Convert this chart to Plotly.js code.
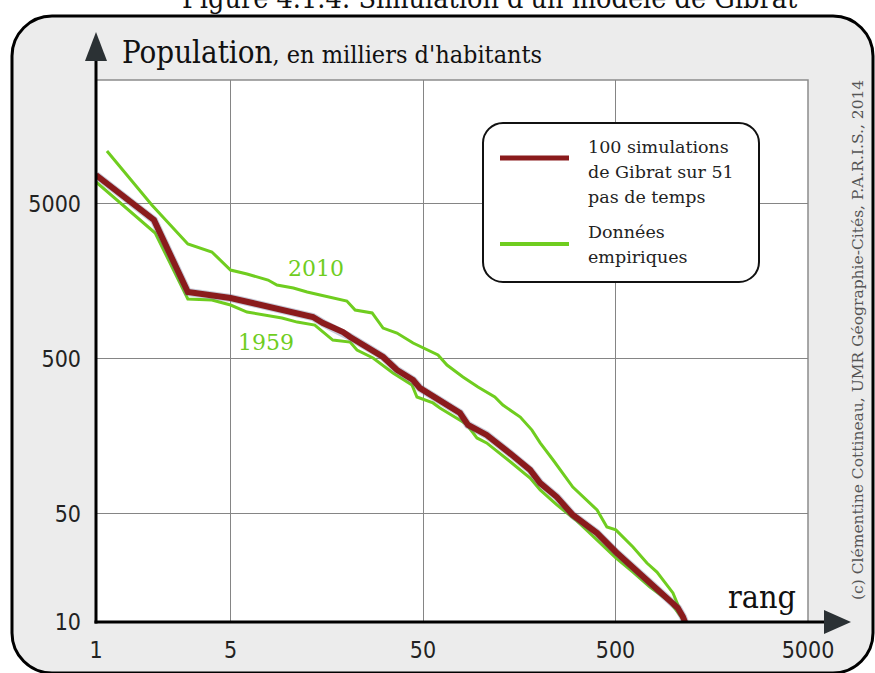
<!DOCTYPE html>
<html>
<head>
<meta charset="utf-8">
<script src="https://cdn.plot.ly/plotly-3.0.1.min.js"></script>
<style>html,body{margin:0;padding:0;background:#fff;}#chart{width:875px;height:673px;}</style>
</head>
<body>
<div id="chart"></div>
<script>
// ---- data (rank, population in thousands) ----
const simRank = [1, 2, 3, 4, 5, 6.5, 9.4, 11.5, 13.4, 15.1, 19.2, 20.9, 25.6, 31, 36.6, 44.4, 48.2, 61.2, 77.8, 85.6, 107, 141, 180, 203, 248, 300, 401, 502, 616, 755, 925, 1055, 1120, 1148];
const simPop  = [7650, 3925, 1346, 1288, 1231, 1143, 1030, 957, 929, 849, 743, 690, 594, 513, 423, 364, 323, 271, 223, 187, 161, 123, 95.7, 78.8, 64, 49, 37.5, 28.3, 22.6, 17.6, 14.5, 12.3, 10.8, 10];

const rank1959 = [1, 2.03, 3, 4, 5, 6.09, 9.25, 11.1, 13.7, 15.1, 17, 20.9, 22.7, 27.5, 34.9, 43.8, 46.5, 56.3, 61.2, 80.6, 84.6, 95.3, 107, 141, 180, 203, 248, 315, 401, 502, 616, 755, 959, 1148];
const pop1959  = [6900, 3235, 1213, 1195, 1110, 1000, 915, 861, 824, 743, 659, 640, 569, 505, 404, 338, 283, 259, 240, 195, 187, 154, 143, 109, 84.9, 71.1, 56.9, 44.9, 33.8, 25.9, 21.0, 16.8, 13.5, 10];

const rank2010 = [1.14, 1.95, 3, 4, 5, 6.09, 7.83, 8.71, 10.6, 12.5, 14.6, 17.0, 20.1, 22.2, 27.2, 31.0, 36.6, 44.4, 52.4, 59.8, 66.6, 80.6, 96.5, 118, 130, 160, 184, 203, 237, 300, 401, 451, 502, 616, 728, 821, 994, 1148];
const pop2010  = [10940, 4900, 2750, 2440, 1866, 1760, 1608, 1494, 1428, 1346, 1288, 1231, 1178, 1030, 986, 788, 732, 631, 569, 528, 455, 381, 328, 283, 251, 210, 173, 143, 111, 74.3, 52.8, 41.0, 39.3, 30.5, 24.0, 21.0, 15.4, 10];

const xTickVals = [1, 5, 50, 500, 5000];
const xTickText = ["1", "5", "50", "500", "5000"];
const yTickVals = [10, 50, 500, 5000];
const yTickText = ["10", "50", "500", "5000"];

const titleText = "Figure 4.1.4: Simulation d'un modèle de Gibrat";
const yTitleMain = "Population";
const yTitleSub = ", en milliers d'habitants";
const xTitle = "rang";
const legendSim = ["100 simulations", "de Gibrat sur 51", "pas de temps"];
const legendEmp = ["Données", "empiriques"];
const credit = "(c) Clémentine Cottineau, UMR Géographie-Cités, P.A.R.I.S., 2014";

// ---- styles ----
const RED = "#8a1b1c";
const GREEN = "#6fcd1f";
const SERIF = "'DejaVu Serif Condensed', 'DejaVu Serif', serif";
const SERIF_R = "'DejaVu Serif', serif";
const SANS_C = "'DejaVu Sans Condensed', 'DejaVu Sans', sans-serif";

// pixel -> paper helpers for decorations
const L = 96, R = 808, T = 80, B = 622;
const px = x => (x - L) / (R - L);
const py = y => (B - y) / (B - T);
function roundRect(x0, y0, x1, y1, r) {
  const k = 0.5523 * r;
  const P = (x, y) => px(x).toFixed(5) + "," + py(y).toFixed(5);
  return "M" + P(x0 + r, y0) + " L" + P(x1 - r, y0) +
    " C" + P(x1 - r + k, y0) + " " + P(x1, y0 + r - k) + " " + P(x1, y0 + r) +
    " L" + P(x1, y1 - r) +
    " C" + P(x1, y1 - r + k) + " " + P(x1 - r + k, y1) + " " + P(x1 - r, y1) +
    " L" + P(x0 + r, y1) +
    " C" + P(x0 + r - k, y1) + " " + P(x0, y1 - r + k) + " " + P(x0, y1 - r) +
    " L" + P(x0, y0 + r) +
    " C" + P(x0, y0 + r - k) + " " + P(x0 + r - k, y0) + " " + P(x0 + r, y0) + " Z";
}
function tri(a, b, c) {
  const P = (p) => px(p[0]).toFixed(5) + "," + py(p[1]).toFixed(5);
  return "M" + P(a) + " L" + P(b) + " L" + P(c) + " Z";
}

const traces = [
  {x: rank1959, y: pop1959, mode: "lines", line: {color: GREEN, width: 3}, hoverinfo: "skip"},
  {x: rank2010, y: pop2010, mode: "lines", line: {color: GREEN, width: 3}, hoverinfo: "skip"},
  {x: simRank, y: simPop, mode: "lines", line: {color: "rgba(95,105,145,0.35)", width: 8}, hoverinfo: "skip"},
  {x: simRank, y: simPop, mode: "lines", line: {color: RED, width: 6}, hoverinfo: "skip"}
];

const shapes = [
  {type: "path", xref: "paper", yref: "paper", path: roundRect(12, 16, 873, 673, 40), fillcolor: "#ececec", line: {color: "#000", width: 3}, layer: "below"},
  {type: "rect", xref: "paper", yref: "paper", x0: 0, x1: 1, y0: 0, y1: 1, fillcolor: "#ffffff", line: {color: "#8c8c8c", width: 1.5}, layer: "below"},
  {type: "path", xref: "paper", yref: "paper", path: roundRect(483, 123, 759, 282, 20), fillcolor: "#ffffff", line: {color: "#111", width: 2}, layer: "above"},
  {type: "line", xref: "paper", yref: "paper", x0: px(500), x1: px(569), y0: py(158), y1: py(158), line: {color: RED, width: 5}, layer: "above"},
  {type: "line", xref: "paper", yref: "paper", x0: px(500), x1: px(569), y0: py(244), y1: py(244), line: {color: GREEN, width: 4}, layer: "above"},
  {type: "line", xref: "paper", yref: "paper", x0: px(94.5), x1: px(827), y0: py(622), y1: py(622), line: {color: "#000", width: 3}, layer: "above"},
  {type: "path", xref: "paper", yref: "paper", path: tri([824, 610], [851, 622], [824, 634]), fillcolor: "#2b3134", line: {width: 0}, layer: "above"},
  {type: "line", xref: "paper", yref: "paper", x0: px(96), x1: px(96), y0: py(623.5), y1: py(58), line: {color: "#000", width: 3}, layer: "above"},
  {type: "path", xref: "paper", yref: "paper", path: tri([85, 61], [96, 32], [107, 61]), fillcolor: "#2b3134", line: {width: 0}, layer: "above"}
];

function ann(text, x, y, size, color, family, xanchor, extra) {
  return Object.assign({text: text, xref: "paper", yref: "paper", x: px(x), y: py(y), showarrow: false,
    xanchor: xanchor || "center", yanchor: "middle", font: {size: size, color: color, family: family}}, extra || {});
}

const annotations = [
  ann(titleText, 490, -1, 28.5, "#111", SERIF),
  ann('<span style="font-size:31px">' + yTitleMain + '</span><span style="font-size:25px">' + yTitleSub + '</span>', 120, 52, 31, "#111", SERIF, "left"),
  ann(xTitle, 762, 597, 32, "#111", SERIF),
  ann("2010", 316, 268, 22, GREEN, SERIF_R),
  ann("1959", 266, 342, 22, GREEN, SERIF_R),
  ann(legendSim[0], 586, 147, 17.5, "#222", SERIF_R, "left"),
  ann(legendSim[1], 586, 172, 17.5, "#222", SERIF_R, "left"),
  ann(legendSim[2], 586, 197, 17.5, "#222", SERIF_R, "left"),
  ann(legendEmp[0], 586, 232, 17.5, "#222", SERIF_R, "left"),
  ann(legendEmp[1], 586, 257, 17.5, "#222", SERIF_R, "left"),
  ann(credit, 858, 340, 15.5, "#555", SERIF_R, "center", {textangle: -90})
];

const layout = {
  width: 875, height: 673, autosize: false,
  margin: {l: 96, r: 67, t: 80, b: 51, pad: 0},
  paper_bgcolor: "#ffffff",
  plot_bgcolor: "rgba(0,0,0,0)",
  showlegend: false,
  xaxis: {
    type: "log", range: [0, Math.log10(5000)],
    tickmode: "array", tickvals: xTickVals, ticktext: xTickText,
    showgrid: true, gridcolor: "#858585", gridwidth: 1,
    showline: false, zeroline: false, ticks: "",
    ticklabelstandoff: 12,
    tickfont: {family: SANS_C, size: 23, color: "#222"}
  },
  yaxis: {
    type: "log", range: [1, 4.497],
    tickmode: "array", tickvals: yTickVals, ticktext: yTickText,
    showgrid: true, gridcolor: "#858585", gridwidth: 1,
    showline: false, zeroline: false, ticks: "",
    ticklabelstandoff: 14,
    tickfont: {family: SANS_C, size: 23, color: "#222"}
  },
  shapes: shapes,
  annotations: annotations
};

Plotly.newPlot("chart", traces, layout, {displayModeBar: false, staticPlot: true});
</script>
</body>
</html>
